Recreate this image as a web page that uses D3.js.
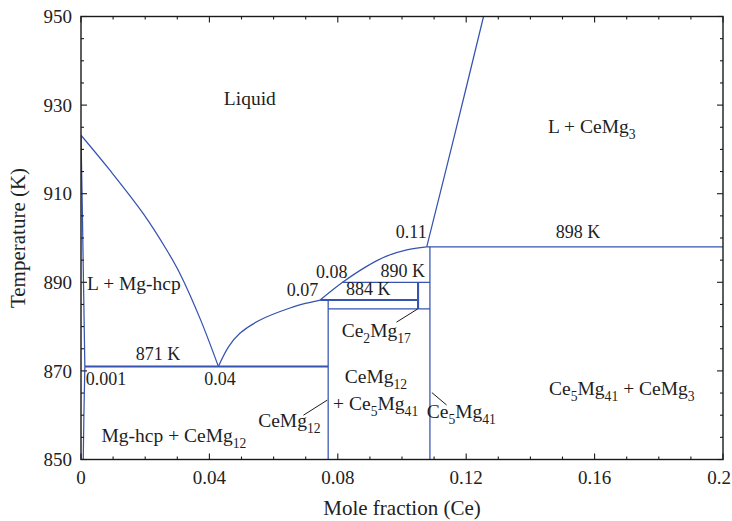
<!DOCTYPE html>
<html>
<head>
<meta charset="utf-8">
<script src="https://cdn.jsdelivr.net/npm/d3@7"></script>
<style>
  html, body { margin: 0; padding: 0; background: #fff; }
  svg { display: block; font-family: "Liberation Serif", "DejaVu Serif", serif; }
</style>
</head>
<body>
<svg id="chart" width="732" height="521"></svg>
<script>
// Ce–Mg phase diagram, Mg-rich corner (0–0.2 mole fraction Ce)

const xTicks = [0, 0.04, 0.08, 0.12, 0.16, 0.2];
const yTicks = [850, 870, 890, 910, 930, 950];

// invariant temperatures (K)
const tEutectic = 871;
const tCe2Mg17Low = 884;
const tCeMg12Peritectic = 886;
const tCe2Mg17High = 890;
const tCe5Mg41Peritectic = 898;

// compound compositions (mole fraction Ce)
const xCeMg12 = 0.077;
const xCe2Mg17 = 0.105;
const xCe5Mg41 = 0.1087;

// liquidus branches, [x, T]
const liquidusMg = [[0, 923.2], [0.009, 915.3], [0.0194, 905.5], [0.0267, 897.3], [0.0308, 892.0], [0.0371, 881.8], [0.0428, 871]];
const liquidusCeMg12 = [[0.0428, 871], [0.046, 875.5], [0.0495, 878.5], [0.0558, 881.5], [0.0651, 884.2], [0.0703, 885.3], [0.0745, 886]];
const liquidusCe2Mg17 = [[0.0745, 886], [0.0815, 890], [0.089, 893.6], [0.0952, 895.9], [0.1015, 897.3], [0.1077, 898]];
const liquidusCeMg3 = [[0.1077, 898], [0.1163, 923], [0.1254, 950]];

// Mg-hcp solidus and solvus
const solidusMg = [[0, 923.2], [0.0004, 907], [0.0008, 889], [0.0012, 871]];
const solvusMg = [[0.0012, 871], [0.0009, 860], [0.0007, 850]];

// composition ends of the horizontal invariant lines
const eutecticEnds = [0.0012, xCeMg12];
const ceMg12PeritecticEnds = [0.0745, xCe2Mg17];
const ce2Mg17HighEnds = [0.0815, xCe5Mg41];
const ce2Mg17LowEnds = [xCeMg12, xCe5Mg41];
const ce5Mg41PeritecticEnds = [0.1077, 0.2];

// ---------------------------------------------------------------
const W = 732, H = 521;
const margin = { left: 81, right: 9, top: 16.5, bottom: 61.5 };
const iw = W - margin.left - margin.right;
const ih = H - margin.top - margin.bottom;

const blue = "#3653b0";
const thin = 1.25, heavy = 2.1;

const svg = d3.select("#chart");
const g = svg.append("g").attr("transform", `translate(${margin.left},${margin.top})`);

const x = d3.scaleLinear().domain([0, 0.2]).range([0, iw]);
const y = d3.scaleLinear().domain([850, 950]).range([ih, 0]);

g.append("clipPath").attr("id", "plot-clip")
  .append("rect").attr("width", iw).attr("height", ih);

const plot = g.append("g").attr("clip-path", "url(#plot-clip)");

// curves
const smooth = d3.line().x(d => x(d[0])).y(d => y(d[1])).curve(d3.curveCatmullRom.alpha(0.5));
const straight = d3.line().x(d => x(d[0])).y(d => y(d[1]));

[liquidusMg, liquidusCeMg12, liquidusCe2Mg17, liquidusCeMg3].forEach(pts => {
  plot.append("path").attr("d", smooth(pts))
    .attr("fill", "none").attr("stroke", blue).attr("stroke-width", thin);
});
[solidusMg, solvusMg].forEach(pts => {
  plot.append("path").attr("d", straight(pts))
    .attr("fill", "none").attr("stroke", blue).attr("stroke-width", thin);
});

// horizontal invariant lines
function hline(ends, t, w) {
  plot.append("line")
    .attr("x1", x(ends[0])).attr("x2", x(ends[1]))
    .attr("y1", y(t)).attr("y2", y(t))
    .attr("stroke", blue).attr("stroke-width", w);
}
hline(eutecticEnds, tEutectic, heavy);
hline(ceMg12PeritecticEnds, tCeMg12Peritectic, heavy);
hline(ce2Mg17HighEnds, tCe2Mg17High, thin);
hline(ce2Mg17LowEnds, tCe2Mg17Low, thin);
hline(ce5Mg41PeritecticEnds, tCe5Mg41Peritectic, thin);

// compound lines
function vline(xc, t0, t1, w) {
  plot.append("line")
    .attr("x1", x(xc)).attr("x2", x(xc))
    .attr("y1", y(t0)).attr("y2", y(t1))
    .attr("stroke", blue).attr("stroke-width", w);
}
vline(xCeMg12, 850, tCeMg12Peritectic, thin);
vline(xCe2Mg17, tCe2Mg17Low, tCe2Mg17High, heavy);
vline(xCe5Mg41, 850, tCe5Mg41Peritectic, thin);

// frame and inward ticks on all four sides
g.append("rect").attr("width", iw).attr("height", ih)
  .attr("fill", "none").attr("stroke", "#1a1a1a").attr("stroke-width", 1.4);

const xMinor = d3.range(0, 0.2001, 0.01);
const yMinor = d3.range(850, 950.01, 5);
const isMajorX = v => xTicks.some(t => Math.abs(t - v) < 1e-9);
const isMajorY = v => yTicks.some(t => Math.abs(t - v) < 1e-9);
const tickG = g.append("g").attr("stroke", "#1a1a1a").attr("stroke-width", 1.1);
xMinor.forEach(v => {
  const len = isMajorX(v) ? 6 : 3;
  tickG.append("line").attr("x1", x(v)).attr("x2", x(v)).attr("y1", ih).attr("y2", ih - len);
  tickG.append("line").attr("x1", x(v)).attr("x2", x(v)).attr("y1", 0).attr("y2", len);
});
yMinor.forEach(v => {
  const len = isMajorY(v) ? 6 : 3;
  tickG.append("line").attr("x1", 0).attr("x2", len).attr("y1", y(v)).attr("y2", y(v));
  tickG.append("line").attr("x1", iw).attr("x2", iw - len).attr("y1", y(v)).attr("y2", y(v));
});

// tick labels
const fmtX = v => v === 0 ? "0" : String(+v.toFixed(2));
g.append("g").selectAll("text").data(xTicks).join("text")
  .attr("x", (d, i) => x(d) - (i === xTicks.length - 1 ? 4 : 0)).attr("y", ih + 24)
  .attr("text-anchor", "middle").attr("font-size", 19).attr("fill", "#222")
  .text(fmtX);
g.append("g").selectAll("text").data(yTicks).join("text")
  .attr("x", -9).attr("y", d => y(d)).attr("dy", "0.35em")
  .attr("text-anchor", "end").attr("font-size", 19).attr("fill", "#222")
  .text(d => d);

// axis titles
svg.append("text")
  .attr("x", margin.left + iw / 2).attr("y", 515)
  .attr("text-anchor", "middle").attr("font-size", 21).attr("fill", "#222")
  .text("Mole fraction (Ce)");
svg.append("text")
  .attr("transform", `translate(25,${margin.top + ih / 2}) rotate(-90)`)
  .attr("text-anchor", "middle").attr("font-size", 21).attr("fill", "#222")
  .text("Temperature (K)");

// text with subscripts written as _{..}
function richText(sel, str, size) {
  const parts = str.split(/(_\{[^}]*\})/).filter(s => s.length);
  const shift = size * 0.3;
  let down = false;
  parts.forEach(p => {
    if (p.startsWith("_{")) {
      sel.append("tspan").attr("font-size", size * 0.7).attr("dy", down ? 0 : shift).text(p.slice(2, -1));
      down = true;
    } else {
      sel.append("tspan").attr("dy", down ? -shift : 0).text(p);
      down = false;
    }
  });
}

// region and point labels: [text, x, T, pixel dy, anchor, size]
const labels = [
  ["Liquid", 0.0526, 930, 0, "middle", 19.5],
  ["L + CeMg_{3}", 0.1455, 923.7, 0, "start", 19.5],
  ["L + Mg-hcp", 0.0019, 888.3, 0, "start", 19.5],
  ["Mg-hcp + CeMg_{12}", 0.0064, 854, 0, "start", 19.5],
  ["871 K", 0.0240, tEutectic, -6.6, "middle", 18],
  ["0.001", 0.0015, tEutectic, 18.4, "start", 18],
  ["0.04", 0.0433, tEutectic, 18.4, "middle", 18],
  ["0.07", 0.0739, tCeMg12Peritectic, -4, "end", 18],
  ["0.08", 0.0830, tCe2Mg17High, -4.4, "end", 18],
  ["0.11", 0.1077, tCe5Mg41Peritectic, -9.3, "end", 18],
  ["898 K", 0.1548, tCe5Mg41Peritectic, -9.3, "middle", 18],
  ["890 K", 0.1072, tCe2Mg17High, -5.4, "end", 18],
  ["884 K", 0.0895, tCeMg12Peritectic, -5, "middle", 18],
  ["Ce_{2}Mg_{17}", 0.0812, 877.7, 0, "start", 19.5],
  ["CeMg_{12}", 0.0919, 867.2, 0, "middle", 19.5],
  ["+ Ce_{5}Mg_{41}", 0.0918, 861.2, 0, "middle", 19.5],
  ["CeMg_{12}", 0.0552, 857.4, 0, "start", 19.5],
  ["Ce_{5}Mg_{41}", 0.1077, 859.4, 0, "start", 19.5],
  ["Ce_{5}Mg_{41} + CeMg_{3}", 0.1458, 864.6, 0, "start", 19.5]
];
const labelG = g.append("g").attr("fill", "#1e1e1e");
labels.forEach(([txt, lx, lt, ddy, anchor, size]) => {
  const t = labelG.append("text")
    .attr("x", x(lx)).attr("y", y(lt) + ddy)
    .attr("text-anchor", anchor).attr("font-size", size);
  richText(t, txt, size);
});

// leader lines from labels to phase lines: [[x, T], [x, T]]
const leaders = [
  [[0.0983, 881.0], [0.1049, 884.0]],
  [[0.0693, 860.0], [0.0767, 863.4]],
  [[0.1093, 865.1], [0.1139, 862.3]]
];
g.append("g").selectAll("line").data(leaders).join("line")
  .attr("x1", d => x(d[0][0])).attr("y1", d => y(d[0][1]))
  .attr("x2", d => x(d[1][0])).attr("y2", d => y(d[1][1]))
  .attr("stroke", "#1a1a1a").attr("stroke-width", 1);
</script>
</body>
</html>
